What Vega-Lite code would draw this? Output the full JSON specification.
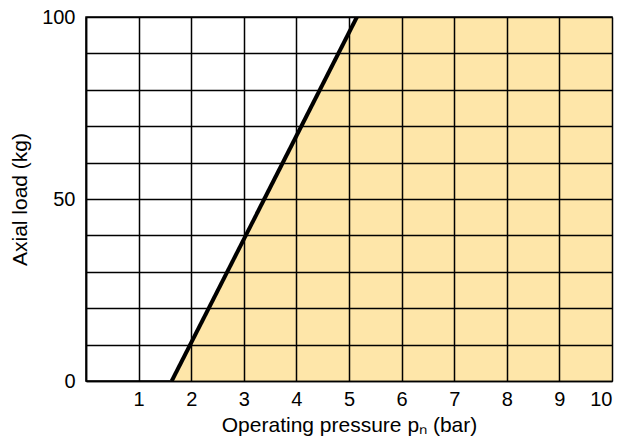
{
  "$schema": "https://vega.github.io/schema/vega-lite/v6.json",
  "width": 526,
  "height": 364,
  "autosize": "none",
  "padding": {"left": 86, "top": 17, "right": 23, "bottom": 59},
  "background": "white",
  "config": {
    "font": "Liberation Sans",
    "view": {"stroke": "black", "strokeWidth": 1.5}
  },
  "datasets": {
    "region": [
      {"p": 1.63, "load": 0, "base": 0},
      {"p": 5.15, "load": 100, "base": 0},
      {"p": 10, "load": 100, "base": 0}
    ],
    "limit": [
      {"p": 1.63, "load": 0},
      {"p": 5.15, "load": 100}
    ]
  },
  "encoding": {
    "x": {
      "field": "p", "type": "quantitative",
      "scale": {"domain": [0, 10], "nice": false, "zero": false},
      "axis": {
        "values": [0, 1, 2, 3, 4, 5, 6, 7, 8, 9, 10],
        "labelExpr": "datum.value == 0 ? '' : datum.label",
        "title": "Operating pressure pₙ (bar)",
        "grid": true, "gridColor": "black", "gridOpacity": 1, "gridWidth": 1.5,
        "ticks": false, "domainColor": "black", "domainWidth": 1.5,
        "labelFontSize": 20, "labelColor": "black", "labelFont": "Liberation Sans",
        "titleFontSize": 21, "titleFontWeight": "normal", "titleColor": "black",
        "titleFont": "Liberation Sans", "zindex": 1, "labelOverlap": false,
        "labelPadding": 8, "titlePadding": 5
      }
    },
    "y": {
      "field": "load", "type": "quantitative",
      "scale": {"domain": [0, 100], "nice": false},
      "axis": {
        "values": [0, 10, 20, 30, 40, 50, 60, 70, 80, 90, 100],
        "labelExpr": "datum.value % 50 == 0 ? datum.label : ''",
        "title": "Axial load (kg)",
        "grid": true, "gridColor": "black", "gridOpacity": 1, "gridWidth": 1.5,
        "ticks": false, "domainColor": "black", "domainWidth": 1.5,
        "labelFontSize": 20, "labelColor": "black", "labelFont": "Liberation Sans",
        "titleFontSize": 21, "titleFontWeight": "normal", "titleColor": "black",
        "titleFont": "Liberation Sans", "zindex": 1, "labelOverlap": false,
        "labelPadding": 11, "titlePadding": 11
      }
    }
  },
  "layer": [
    {
      "data": {"name": "region"},
      "mark": {"type": "area", "color": "#fee6a9", "opacity": 1},
      "encoding": {
        "y2": {"field": "base"}
      }
    },
    {
      "data": {"name": "limit"},
      "mark": {"type": "line", "color": "black", "strokeWidth": 4, "clip": true},
      "encoding": {}
    }
  ]
}
